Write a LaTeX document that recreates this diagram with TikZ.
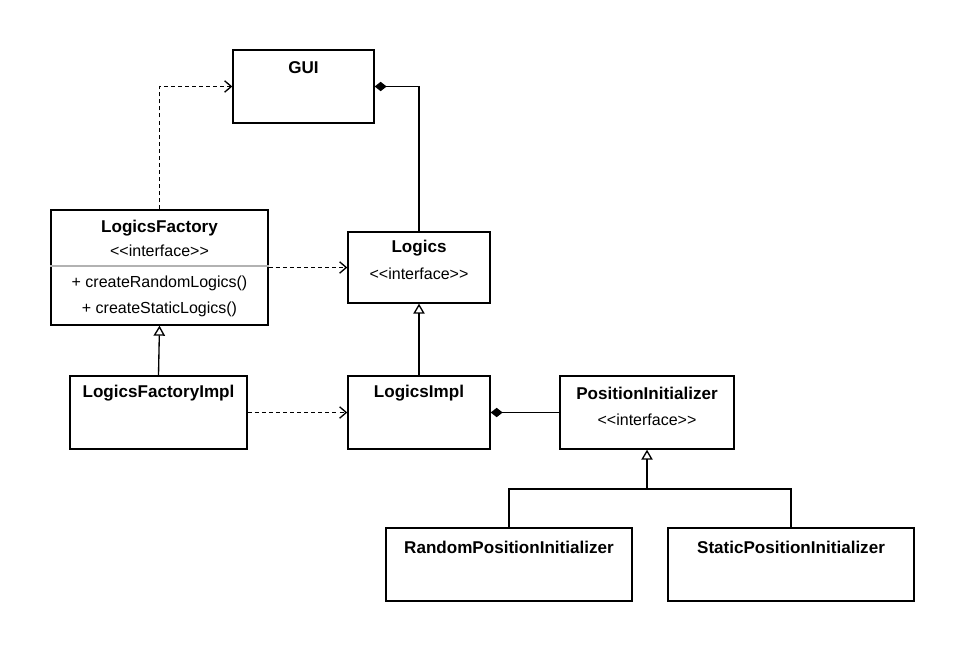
\documentclass[tikz,border=0pt]{standalone}
\usepackage{fontspec}
\setmainfont{Liberation Sans}
\usetikzlibrary{arrows.meta}
\newcommand{\stereotype}{<\kern0pt<interface>\kern0pt>}

\begin{document}
\begin{tikzpicture}[x=0.75pt, y=-0.75pt,
    classbox/.style={draw, line width=1pt, inner sep=0pt, minimum height=73*0.75pt},
    title/.style={font=\fontsize{12.8}{14}\selectfont\bfseries, inner sep=0pt},
    member/.style={font=\fontsize{12}{14}\selectfont, inner sep=0pt},
    depends/.style={line width=1pt, dash pattern=on 3pt off 2.3pt, -{Straight Barb[length=5pt, width=8.5pt]}},
    realizes/.style={line width=1pt, -{Triangle[open, length=7.5pt, width=8.5pt]}},
    composed/.style={line width=1pt, {Diamond[length=9pt, width=7pt]}-}]
    \useasboundingbox (0,0) rectangle (967,653);
    % classes
    \node[classbox, minimum width=141*0.75pt] (gui) at (303.5,86.5) {};
    \node[title] (guititle) at (303.5,68) {GUI};
    \node[classbox, minimum width=217*0.75pt, minimum height=115*0.75pt] (factory) at (159.5,267.5) {};
    \node[title] (factorytitle) at (159.5,228) {LogicsFactory};
    \node[member] (factorystereo) at (159.5,251) {\stereotype};
    \node[member] (factoryrandom) at (159.5,283) {+ createRandomLogics()};
    \node[member] (factorystatic) at (159.5,309) {+ createStaticLogics()};
    \draw [line width=1pt, black!30] (factory.west) ++(0,-1.5) coordinate (sepleft) -- (sepleft -| factory.east);
    \node[classbox, minimum width=142*0.75pt, minimum height=71*0.75pt] (logics) at (419,267.5) {};
    \node[title] (logicstitle) at (419,248) {Logics};
    \node[member] (logicsstereo) at (419,274) {\stereotype};
    \node[classbox, minimum width=177*0.75pt] (factoryimpl) at (158.5,412.5) {};
    \node[title] (factoryimpltitle) at (158.5,393) {LogicsFactoryImpl};
    \node[classbox, minimum width=142*0.75pt] (logicsimpl) at (419,412.5) {};
    \node[title] (logicsimpltitle) at (419,393) {LogicsImpl};
    \node[classbox, minimum width=174*0.75pt] (posinit) at (647,412.5) {};
    \node[title] (posinittitle) at (647,393) {PositionInitializer};
    \node[member] (posinitstereo) at (647,420) {\stereotype};
    \node[classbox, minimum width=246*0.75pt] (randominit) at (509,564.5) {};
    \node[title] (randominittitle) at (509,547) {RandomPositionInitializer};
    \node[classbox, minimum width=246*0.75pt] (staticinit) at (791,564.5) {};
    \node[title] (staticinittitle) at (791,547) {StaticPositionInitializer};
    \coordinate (fork) at (647,489);
    % relations
    \draw [depends] (factory.north) |- (gui.west);
    \draw [composed] (gui.east) -| (logics.north);
    \draw [depends] (factory.east) -- (logics.west);
    \draw [realizes] (factoryimpl.north) -- (factory.south);
    \draw [realizes] (logicsimpl.north) -- (logics.south);
    \draw [depends] (factoryimpl.east) -- (logicsimpl.west);
    \draw [composed] (logicsimpl.east) -- (posinit.west);
    \draw [line width=1pt] (randominit.north) |- (fork) -| (staticinit.north);
    \draw [realizes] (fork) -- (posinit.south);
\end{tikzpicture}
\end{document}
